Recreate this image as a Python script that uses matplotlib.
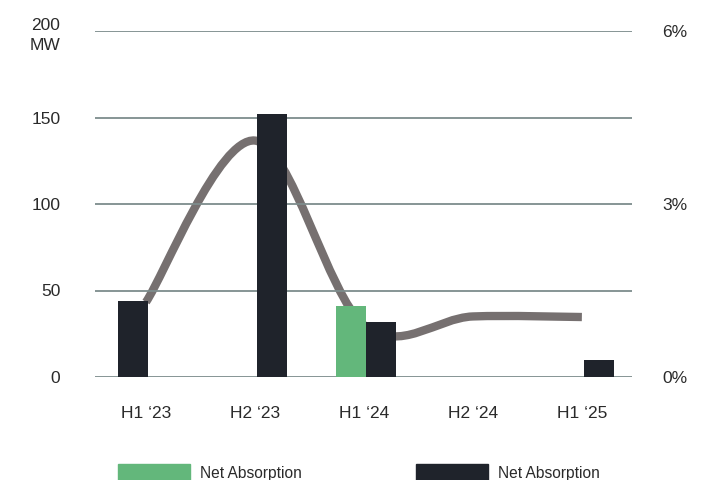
import matplotlib
matplotlib.use("Agg")
import matplotlib.pyplot as plt
from matplotlib.path import Path
from matplotlib.patches import PathPatch, Patch
import numpy as np

# data
periods = ["H1 \u201823", "H2 \u201823", "H1 \u201824", "H2 \u201824", "H1 \u201825"]
green_mw = [0, 0, 41, 0, 0]
dark_mw = [44, 152, 32, 0, 10]
vacancy_pct = [1.3, 4.1, 0.9, 1.05, 1.04]
left_ticks = [0, 50, 100, 150, 200]
left_labels = ["0", "50", "100", "150", "200\nMW"]
right_ticks = [0, 3, 6]
right_labels = ["0%", "3%", "6%"]

GREEN = "#63b77b"
DARK = "#1f232b"
LINE = "#767070"
GRID = "#7d8c8c"
TXT = "#2a2a2a"

plt.rcParams["font.family"] = ["Liberation Sans", "DejaVu Sans"]

fig = plt.figure(figsize=(7.09, 4.80), dpi=100)
ax = fig.add_axes([95 / 709, 1 - 377 / 480, (632 - 95) / 709, (377 - 31) / 480])
ax2 = ax.twinx()

x = np.arange(len(periods))
w = 0.275
# first group has its dark bar left of centre, the rest to the right
dark_side = [-1, 1, 1, 1, 1]

ax.set_ylim(0, 200)
ax.set_xlim(-0.468, 4.46)
for t in left_ticks:
    ax.axhline(t, color=GRID, lw=1.3, zorder=0)

# smooth line (catmull-rom through the values, drawn as bezier path)
ax2.set_ylim(0, 6)
pts = list(zip(x.astype(float), vacancy_pct))
verts = [pts[0]]
codes = [Path.MOVETO]
for i in range(len(pts) - 1):
    p0 = pts[i - 1] if i > 0 else pts[i]
    p1 = pts[i]
    p2 = pts[i + 1]
    p3 = pts[i + 2] if i + 2 < len(pts) else pts[i + 1]
    c1 = (p1[0] + (p2[0] - p0[0]) / 6, p1[1] + (p2[1] - p0[1]) / 6)
    c2 = (p2[0] - (p3[0] - p1[0]) / 6, p2[1] - (p3[1] - p1[1]) / 6)
    verts += [c1, c2, p2]
    codes += [Path.CURVE4] * 3
ax2.add_patch(PathPatch(Path(verts, codes), fill=False, edgecolor=LINE,
                        lw=6, capstyle="butt", zorder=1))

# bars on top of the line
ax.set_zorder(ax2.get_zorder() + 1)
ax.patch.set_visible(False)
ax.bar(x + 0.02, green_mw, width=-w, align="edge", color=GREEN, zorder=3)
ax.bar(x + 0.02, dark_mw, width=[s * w for s in dark_side], align="edge", color=DARK, zorder=3)

for a in (ax, ax2):
    for s in a.spines.values():
        s.set_visible(False)
    a.tick_params(length=0, colors=TXT, labelsize=12.5)

ax.set_yticks(left_ticks)
ax.set_yticklabels(left_labels, ha="right", multialignment="right", linespacing=1.45)
ax.tick_params(axis="y", pad=25)
ax.set_xticks(x)
ax.set_xticklabels(periods)
ax.tick_params(axis="x", pad=21)
ax2.set_yticks(right_ticks)
ax2.set_yticklabels(right_labels)
ax2.tick_params(axis="y", pad=22)

handles = [Patch(color=GREEN), Patch(color=DARK)]
fig.legend(handles, ["Net Absorption", "Net Absorption"], ncol=2,
           loc="upper left", bbox_to_anchor=(118 / 709, 1 - 464 / 480),
           frameon=False, borderpad=0, borderaxespad=0, fontsize=11.2,
           handlelength=4.6, handleheight=1.35, handletextpad=0.64,
           columnspacing=7.4, labelcolor=TXT)

fig.savefig("out.png", dpi=100)
